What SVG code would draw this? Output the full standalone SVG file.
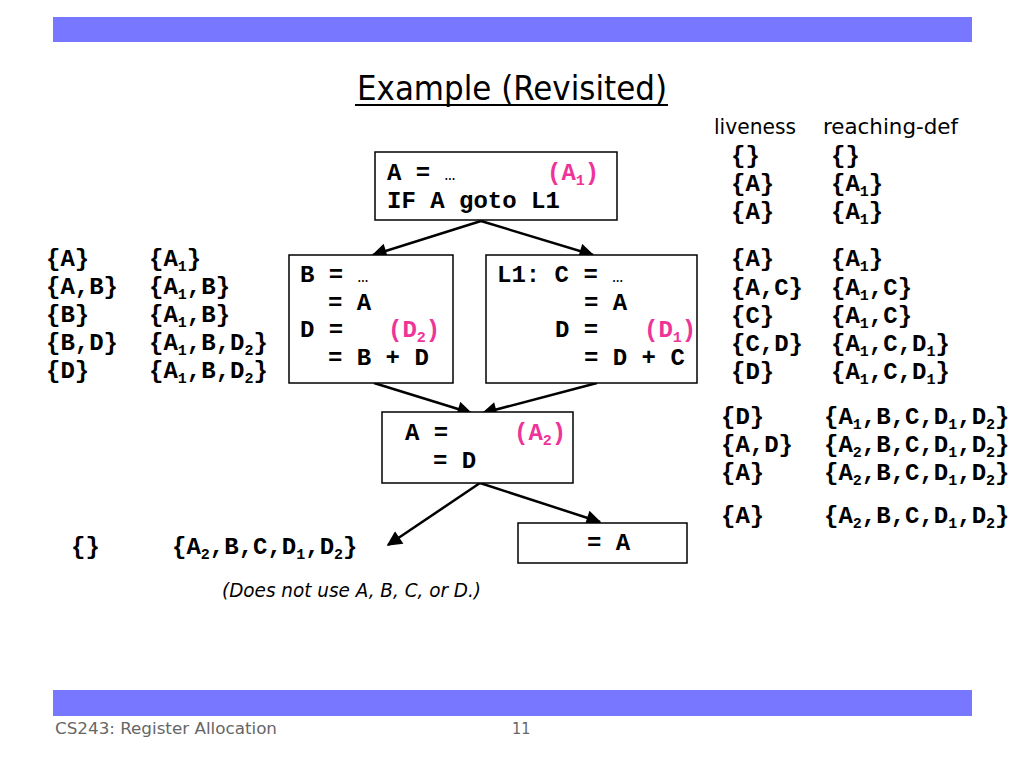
<svg xmlns="http://www.w3.org/2000/svg" width="1024" height="768" viewBox="0 0 1024 768">
<defs>
<style>
.code{font-family:"Liberation Mono","Courier New",monospace;font-weight:bold;font-size:24px;fill:#000}
.sub{font-size:15px}
.pink{fill:#ee3399}
.hand{font-family:"DejaVu Sans Condensed","Liberation Sans Narrow","DejaVu Sans",sans-serif;fill:#000}
.box{fill:#fff;stroke:#000;stroke-width:1.5}
.bar{fill:#7777ff}
.edge{stroke:#000;stroke-width:2.5;fill:none;marker-end:url(#ah)}
</style>
<marker id="ah" viewBox="0 0 10 10" refX="9" refY="5" markerWidth="7" markerHeight="6" markerUnits="strokeWidth" orient="auto">
<path d="M0,0 L10,5 L0,10 z" fill="#000"/>
</marker>
</defs>
<rect width="1024" height="768" fill="#fff"/>
<rect class="bar" x="53" y="17" width="919" height="25"/>
<rect class="bar" x="53" y="690" width="919" height="26"/>
<g id="title">
<text class="hand" x="512" y="100" font-size="33" text-anchor="middle" textLength="310" lengthAdjust="spacingAndGlyphs">Example (Revisited)</text>
<line x1="355" y1="105" x2="668" y2="105" stroke="#000" stroke-width="2"/>
</g>
<g id="footer">
<text class="hand" x="55" y="734" font-size="16" style="fill:#666" textLength="222" lengthAdjust="spacingAndGlyphs">CS243: Register Allocation</text>
<text class="hand" x="512" y="734" font-size="16" style="fill:#666">11</text>
</g>
<g id="connectors">
<line class="edge" x1="481" y1="221" x2="373" y2="255"/>
<line class="edge" x1="481" y1="221" x2="593" y2="255"/>
<line class="edge" x1="374" y1="383" x2="471" y2="413"/>
<line class="edge" x1="597" y1="383" x2="483" y2="413"/>
<line class="edge" x1="480" y1="483" x2="388" y2="545"/>
<line class="edge" x1="480" y1="483" x2="600" y2="522"/>
</g>
<g id="n1">
<rect class="box" x="375" y="152" width="242" height="68"/>
<text class="code" x="387" y="180">A = <tspan font-weight="normal" font-size="18">…</tspan></text>
<text class="code pink" x="547" y="180">(A<tspan class="sub" dy="5">1</tspan><tspan dy="-5">)</tspan></text>
<text class="code" x="387" y="208">IF A goto L1</text>
</g>
<g id="n2">
<rect class="box" x="289" y="255" width="164" height="128"/>
<text class="code" x="300" y="282">B = <tspan font-weight="normal" font-size="18">…</tspan></text>
<text class="code" x="328" y="310">= A</text>
<text class="code" x="300" y="337">D =</text>
<text class="code pink" x="388" y="337">(D<tspan class="sub" dy="5">2</tspan><tspan dy="-5">)</tspan></text>
<text class="code" x="328" y="365">= B + D</text>
</g>
<g id="n3">
<rect class="box" x="486" y="255" width="211" height="128"/>
<text class="code" x="497" y="282">L1: C = <tspan font-weight="normal" font-size="18">…</tspan></text>
<text class="code" x="584" y="310">= A</text>
<text class="code" x="555" y="337">D =</text>
<text class="code pink" x="644" y="337">(D<tspan class="sub" dy="5">1</tspan><tspan dy="-5">)</tspan></text>
<text class="code" x="584" y="365">= D + C</text>
</g>
<g id="n4">
<rect class="box" x="382" y="412" width="191" height="71"/>
<text class="code" x="405" y="440">A =</text>
<text class="code pink" x="514" y="440">(A<tspan class="sub" dy="5">2</tspan><tspan dy="-5">)</tspan></text>
<text class="code" x="433" y="468">= D</text>
</g>
<g id="n5">
<rect class="box" x="518" y="523" width="169" height="40"/>
<text class="code" x="587" y="550">= A</text>
</g>
<g id="right-table">
<text class="hand" x="714" y="134" font-size="21" textLength="82" lengthAdjust="spacingAndGlyphs">liveness</text>
<text class="hand" x="823" y="134" font-size="21" textLength="135" lengthAdjust="spacingAndGlyphs">reaching-def</text>
<text class="code" x="731" y="163">{}</text>
<text class="code" x="831" y="163">{}</text>
<text class="code" x="731" y="191">{A}</text>
<text class="code" x="831" y="191">{A<tspan class="sub" dy="5">1</tspan><tspan dy="-5">}</tspan></text>
<text class="code" x="731" y="219">{A}</text>
<text class="code" x="831" y="219">{A<tspan class="sub" dy="5">1</tspan><tspan dy="-5">}</tspan></text>
<text class="code" x="731" y="266">{A}</text>
<text class="code" x="831" y="266">{A<tspan class="sub" dy="5">1</tspan><tspan dy="-5">}</tspan></text>
<text class="code" x="731" y="295">{A,C}</text>
<text class="code" x="831" y="295">{A<tspan class="sub" dy="5">1</tspan><tspan dy="-5">,C}</tspan></text>
<text class="code" x="731" y="323">{C}</text>
<text class="code" x="831" y="323">{A<tspan class="sub" dy="5">1</tspan><tspan dy="-5">,C}</tspan></text>
<text class="code" x="731" y="351">{C,D}</text>
<text class="code" x="831" y="351">{A<tspan class="sub" dy="5">1</tspan><tspan dy="-5">,C,D</tspan><tspan class="sub" dy="5">1</tspan><tspan dy="-5">}</tspan></text>
<text class="code" x="731" y="379">{D}</text>
<text class="code" x="831" y="379">{A<tspan class="sub" dy="5">1</tspan><tspan dy="-5">,C,D</tspan><tspan class="sub" dy="5">1</tspan><tspan dy="-5">}</tspan></text>
<text class="code" x="721" y="424">{D}</text>
<text class="code" x="824" y="424">{A<tspan class="sub" dy="5">1</tspan><tspan dy="-5">,B,C,D</tspan><tspan class="sub" dy="5">1</tspan><tspan dy="-5">,D</tspan><tspan class="sub" dy="5">2</tspan><tspan dy="-5">}</tspan></text>
<text class="code" x="721" y="452">{A,D}</text>
<text class="code" x="824" y="452">{A<tspan class="sub" dy="5">2</tspan><tspan dy="-5">,B,C,D</tspan><tspan class="sub" dy="5">1</tspan><tspan dy="-5">,D</tspan><tspan class="sub" dy="5">2</tspan><tspan dy="-5">}</tspan></text>
<text class="code" x="721" y="480">{A}</text>
<text class="code" x="824" y="480">{A<tspan class="sub" dy="5">2</tspan><tspan dy="-5">,B,C,D</tspan><tspan class="sub" dy="5">1</tspan><tspan dy="-5">,D</tspan><tspan class="sub" dy="5">2</tspan><tspan dy="-5">}</tspan></text>
<text class="code" x="721" y="523">{A}</text>
<text class="code" x="824" y="523">{A<tspan class="sub" dy="5">2</tspan><tspan dy="-5">,B,C,D</tspan><tspan class="sub" dy="5">1</tspan><tspan dy="-5">,D</tspan><tspan class="sub" dy="5">2</tspan><tspan dy="-5">}</tspan></text>
</g>
<g id="left-table">
<text class="code" x="46" y="266">{A}</text>
<text class="code" x="149" y="266">{A<tspan class="sub" dy="5">1</tspan><tspan dy="-5">}</tspan></text>
<text class="code" x="46" y="294">{A,B}</text>
<text class="code" x="149" y="294">{A<tspan class="sub" dy="5">1</tspan><tspan dy="-5">,B}</tspan></text>
<text class="code" x="46" y="322">{B}</text>
<text class="code" x="149" y="322">{A<tspan class="sub" dy="5">1</tspan><tspan dy="-5">,B}</tspan></text>
<text class="code" x="46" y="350">{B,D}</text>
<text class="code" x="149" y="350">{A<tspan class="sub" dy="5">1</tspan><tspan dy="-5">,B,D</tspan><tspan class="sub" dy="5">2</tspan><tspan dy="-5">}</tspan></text>
<text class="code" x="46" y="378">{D}</text>
<text class="code" x="149" y="378">{A<tspan class="sub" dy="5">1</tspan><tspan dy="-5">,B,D</tspan><tspan class="sub" dy="5">2</tspan><tspan dy="-5">}</tspan></text>
</g>
<g id="bottom-row">
<text class="code" x="71" y="554">{}</text>
<text class="code" x="172" y="554">{A<tspan class="sub" dy="5">2</tspan><tspan dy="-5">,B,C,D</tspan><tspan class="sub" dy="5">1</tspan><tspan dy="-5">,D</tspan><tspan class="sub" dy="5">2</tspan><tspan dy="-5">}</tspan></text>
<text class="hand" x="222" y="597" font-size="20" font-style="italic" textLength="259" lengthAdjust="spacingAndGlyphs">(Does not use A, B, C, or D.)</text>
</g>
</svg>
